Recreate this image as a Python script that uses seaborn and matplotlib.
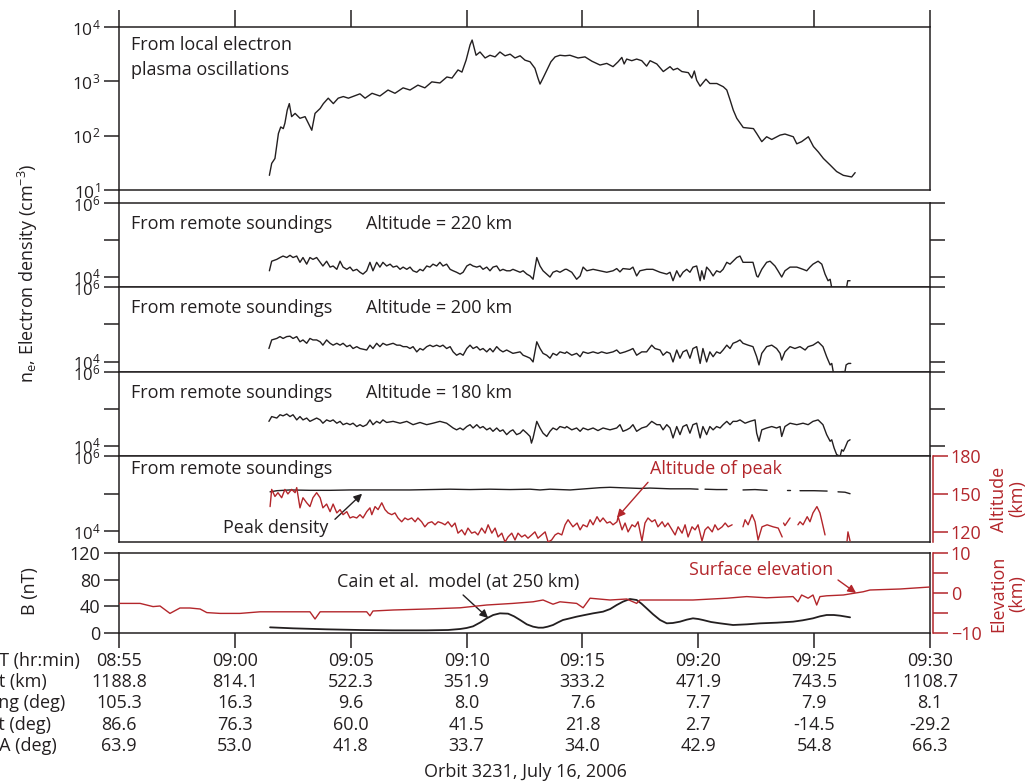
import numpy as np
import matplotlib
matplotlib.use("Agg")
import matplotlib.pyplot as plt
import matplotlib.transforms as mtransforms
from matplotlib.lines import Line2D
from matplotlib.ticker import FixedLocator, FixedFormatter, NullLocator
import seaborn as sns

# ---------------- data (time in minutes after 08:55 UT) ----------------
local_t = [6.49, 6.59, 6.73, 6.88, 6.98, 7.09, 7.16, 7.26, 7.35, 7.45, 7.60, 7.81, 8.03, 8.17, 8.32, 8.46,
           8.68, 8.82, 9.03, 9.25, 9.46, 9.68, 9.90,
           10.40, 10.62, 10.92, 11.26, 11.61, 11.91, 12.26, 12.56, 12.90, 13.20,
           13.50, 13.85, 14.15, 14.37, 14.63, 14.80, 14.98, 15.15, 15.24, 15.41,
           15.58, 15.80, 16.01, 16.23, 16.44, 16.66, 16.88, 17.09, 17.31, 17.52,
           17.74, 17.95, 18.08, 18.17, 18.30, 18.47, 18.64, 18.82, 19.03, 19.25,
           19.46, 19.81, 20.11, 20.41, 20.76,
           21.05, 21.32, 21.54, 21.70, 21.80, 21.91, 22.13, 22.34, 22.56, 22.77, 22.92,
           23.21, 23.49, 23.78, 23.92, 24.10, 24.29, 24.57, 24.72, 24.83, 24.93, 25.08, 25.33, 25.50, 25.80,
           26.08, 26.23, 26.37, 26.51, 26.66, 26.94, 27.38, 27.52, 27.74, 27.95, 28.17, 28.53, 28.74, 29.10,
           29.25, 29.46, 29.75, 29.97, 30.18, 30.40, 30.69, 30.97, 31.26, 31.62, 31.77]
local_log_ne = [1.27, 1.49, 1.58, 2.04, 2.16, 2.13, 2.23, 2.47, 2.59, 2.35, 2.41, 2.32, 2.35, 2.23, 2.10, 2.41,
                2.50, 2.59, 2.69, 2.59, 2.69, 2.72, 2.69,
                2.77, 2.69, 2.78, 2.73, 2.84, 2.78, 2.88, 2.84, 2.93, 2.88,
                2.99, 2.97, 3.08, 3.06, 3.21, 3.17, 3.39, 3.67, 3.76, 3.48,
                3.54, 3.43, 3.48, 3.45, 3.54, 3.47, 3.50, 3.43, 3.47, 3.39,
                3.36, 3.24, 3.06, 2.95, 3.06, 3.21, 3.36, 3.45, 3.48, 3.47,
                3.48, 3.43, 3.45, 3.37, 3.30,
                3.33, 3.27, 3.36, 3.44, 3.32, 3.41, 3.38, 3.41, 3.38, 3.28, 3.38,
                3.32, 3.18, 3.27, 3.21, 3.24, 3.18, 3.16, 3.06, 3.19, 3.02, 2.91, 3.04, 2.96, 2.96,
                2.90, 2.84, 2.66, 2.47, 2.32, 2.15, 2.13, 2.04, 1.89, 1.98, 1.93, 2.01, 2.03, 1.98,
                1.85, 1.89, 1.98, 1.80, 1.70, 1.58, 1.46, 1.34, 1.27, 1.24, 1.32]

s220_t = [6.49, 6.59, 6.81, 6.95, 7.08, 7.24, 7.38, 7.51, 7.67, 7.81,
          7.94, 8.10, 8.24, 8.37, 8.53, 8.68, 8.80, 8.96, 9.11, 9.24,
          9.40, 9.54, 9.67, 9.83, 9.97, 10.10, 10.26, 10.40, 10.53, 10.69,
          10.83, 10.96, 11.12, 11.26, 11.39, 11.55, 11.70, 11.83, 11.99, 12.13,
          12.26, 12.42, 12.56, 12.69, 12.85, 12.99, 13.12, 13.28, 13.42, 13.55,
          13.71, 13.85, 13.98, 14.14, 14.29, 14.42, 14.57, 14.72, 14.85, 15.01,
          15.15, 15.28, 15.44, 15.58, 15.71, 15.87, 16.01, 16.14, 16.30, 16.44,
          16.57, 16.73, 16.88, 17.00, 17.16, 17.31, 17.44, 17.60, 17.74, 17.87,
          18.03, 18.17, 18.30, 18.46, 18.60, 18.73, 18.89, 19.03, 19.25, 19.32,
          19.54, 19.75, 19.90, 20.03, 20.19, 20.46, 20.76, 21.05, 21.32, 21.48,
          21.62, 21.75, 22.05, 22.18, 22.34, 22.48, 22.77, 23.04, 23.35, 23.64,
          23.78, 23.91, 24.07, 24.21, 24.34, 24.50, 24.64, 24.77, 24.93, 25.08,
          25.15, 25.25, 25.36, 25.50, 25.64, 25.79, 25.94, 26.07, 26.23, 26.37,
          26.50, 26.66, 26.80, 26.93, 27.15, 27.36, 27.52, 27.58, 27.74, 27.95,
          28.10, 28.31, 28.44, 28.60, 28.74, 28.96, 29.25, 29.52, 29.68, 29.82,
          29.95, 30.17, 30.33, 30.47, 30.60, 30.69, 30.76, 30.85, 31.38, 31.41,
          31.45, 31.55]
s220_log_ne = [4.16, 4.42, 4.47, 4.52, 4.56, 4.52, 4.58, 4.52, 4.56, 4.39,
               4.52, 4.34, 4.52, 4.47, 4.52, 4.39, 4.29, 4.42, 4.26, 4.29,
               4.20, 4.42, 4.26, 4.20, 4.26, 4.16, 4.20, 4.12, 4.07, 4.16,
               4.39, 4.16, 4.39, 4.26, 4.39, 4.29, 4.34, 4.26, 4.29, 4.20,
               4.26, 4.20, 4.26, 4.16, 4.12, 4.20, 4.16, 4.29, 4.26, 4.34,
               4.29, 4.39, 4.29, 4.34, 4.20, 4.16, 4.12, 4.07, 4.12, 4.29,
               4.34, 4.29, 4.26, 4.29, 4.20, 4.26, 4.16, 4.26, 4.29, 4.16,
               4.20, 4.16, 4.16, 4.20, 4.16, 4.12, 4.16, 4.07, 4.02, 3.93,
               4.52, 4.29, 4.16, 4.07, 3.99, 4.12, 4.16, 4.12, 4.20, 4.20,
               4.12, 3.93, 4.02, 4.26, 4.16, 4.20, 4.16, 4.12, 4.16, 4.22,
               4.13, 4.22, 4.20, 4.26, 4.02, 4.16, 4.20, 4.20, 4.12, 4.07,
               4.12, 3.89, 4.16, 3.99, 4.12, 4.20, 4.12, 4.26, 4.29, 3.89,
               4.16, 3.93, 4.26, 4.16, 4.02, 4.16, 4.12, 4.20, 4.39, 4.34,
               4.42, 4.52, 4.56, 4.39, 4.39, 4.39, 4.02, 3.99, 4.20, 4.39,
               4.42, 4.29, 4.16, 3.99, 4.16, 4.26, 4.26, 4.20, 4.16, 4.26,
               4.34, 4.42, 4.34, 4.07, 3.89, 3.93, 3.70, 3.40, 3.40, 3.75,
               3.89, 3.89]

s200_t = [6.47, 6.59, 6.81, 6.95, 7.08, 7.24, 7.38, 7.51, 7.67, 7.81,
          7.94, 8.10, 8.24, 8.37, 8.53, 8.68, 8.80, 8.96, 9.11, 9.24,
          9.40, 9.54, 9.67, 9.83, 9.97, 10.10, 10.26, 10.40, 10.69, 10.83,
          10.96, 11.12, 11.26, 11.39, 11.55, 11.83, 11.99, 12.13, 12.26, 12.42,
          12.56, 12.69, 12.85, 12.99, 13.12, 13.28, 13.42, 13.55, 13.71, 13.85,
          13.98, 14.14, 14.29, 14.42, 14.57, 14.72, 14.85, 15.01, 15.15, 15.28,
          15.44, 15.58, 15.71, 15.87, 16.01, 16.14, 16.30, 16.44, 16.57, 16.73,
          16.88, 17.00, 17.31, 17.44, 17.60, 17.74, 17.87, 18.03, 18.17, 18.30,
          18.46, 18.60, 18.73, 18.89, 19.03, 19.25,
          19.32, 19.54, 19.75, 19.90, 20.03, 20.24, 20.46, 20.67, 20.83, 21.05,
          21.32, 21.48, 21.62, 21.84, 22.05, 22.18, 22.34, 22.56, 22.77, 22.99,
          23.13, 23.35, 23.48, 23.64, 23.78, 23.91, 24.07, 24.21, 24.34, 24.50,
          24.64, 24.77, 24.93, 25.08, 25.20, 25.36, 25.50, 25.64, 25.79, 25.94,
          26.07, 26.23, 26.37, 26.50, 26.66, 26.80, 26.93, 27.15, 27.36, 27.52,
          27.62, 27.74, 27.95, 28.17, 28.38, 28.53, 28.60, 28.74, 28.96, 29.17,
          29.39, 29.61, 29.74, 29.95, 30.17, 30.38, 30.54, 30.69, 30.76, 30.86,
          31.19, 31.33, 31.38, 31.48, 31.58]
s200_log_ne = [4.35, 4.58, 4.62, 4.67, 4.62, 4.67, 4.68, 4.62, 4.67, 4.53,
               4.58, 4.49, 4.62, 4.58, 4.58, 4.53, 4.44, 4.58, 4.49, 4.44,
               4.49, 4.44, 4.49, 4.40, 4.44, 4.35, 4.40, 4.35, 4.31, 4.44,
               4.35, 4.49, 4.40, 4.49, 4.44, 4.49, 4.44, 4.44, 4.40, 4.40,
               4.35, 4.40, 4.26, 4.35, 4.31, 4.40, 4.44, 4.40, 4.44, 4.40,
               4.44, 4.35, 4.40, 4.26, 4.17, 4.22, 4.17, 4.35, 4.44, 4.35,
               4.40, 4.31, 4.35, 4.26, 4.35, 4.26, 4.40, 4.31, 4.26, 4.31,
               4.26, 4.22, 4.26, 4.17, 4.13, 4.09, 3.99, 4.53, 4.35, 4.22,
               4.17, 4.09, 4.22, 4.17, 4.26, 4.22,
               4.26, 4.17, 4.22, 4.13, 4.26, 4.22, 4.26, 4.22, 4.26, 4.22,
               4.26, 4.31, 4.22, 4.26, 4.31, 4.35, 4.17, 4.26, 4.26, 4.44,
               4.35, 4.31, 4.17, 4.26, 4.22, 3.99, 4.31, 4.09, 4.26, 4.31,
               4.09, 4.35, 4.40, 3.95, 4.35, 3.99, 4.26, 4.13, 4.26, 4.22,
               4.31, 4.44, 4.35, 4.49, 4.53, 4.58, 4.49, 4.44, 4.40, 4.13,
               3.91, 4.22, 4.40, 4.44, 4.35, 4.22, 4.04, 4.26, 4.40, 4.35,
               4.40, 4.31, 4.40, 4.44, 4.53, 4.40, 4.13, 3.91, 3.95, 3.60,
               3.73, 3.73, 3.91, 3.95, 3.95]

s180_t = [6.47, 6.59, 6.81, 6.95, 7.08, 7.24, 7.38, 7.51, 7.67, 7.81,
          7.94, 8.10, 8.24, 8.37, 8.53, 8.68, 8.80, 8.96, 9.11, 9.24,
          9.40, 9.54, 9.67, 9.83, 9.97, 10.10, 10.26, 10.40, 10.53, 10.69,
          10.83, 10.96, 11.12, 11.26, 11.39, 11.55, 11.83, 12.13, 12.42, 12.69,
          12.99, 13.28, 13.55, 13.85, 14.14, 14.42, 14.57, 14.72, 14.85, 15.01,
          15.15, 15.28, 15.44, 15.58, 15.71, 15.87, 16.01, 16.14, 16.30, 16.44,
          16.57, 16.73, 16.88, 17.00, 17.16, 17.31, 17.44, 17.60, 17.74, 17.80,
          17.87, 18.03, 18.17, 18.30, 18.46, 18.60, 18.73, 18.89, 19.03, 19.25,
          19.32, 19.54, 19.75, 19.90, 20.03, 20.24, 20.46, 20.67, 20.89, 21.19,
          21.48, 21.62, 21.75, 21.91, 22.05, 22.18, 22.34, 22.56, 22.77, 22.99,
          23.21, 23.35, 23.48, 23.64, 23.78, 23.91, 24.07, 24.21, 24.34, 24.50,
          24.64, 24.77, 24.93, 25.08, 25.20, 25.36, 25.50, 25.64, 25.79, 25.94,
          26.07, 26.23, 26.37, 26.50, 26.66, 26.80, 27.02, 27.23, 27.45, 27.52,
          27.62, 27.74, 27.95, 28.17, 28.38, 28.53, 28.60, 28.74, 28.96, 29.25,
          29.52, 29.74, 29.95, 30.17, 30.38, 30.54, 30.69, 30.76, 30.86, 30.97,
          31.12, 31.19, 31.26, 31.33, 31.45, 31.55]
s180_log_ne = [4.66, 4.79, 4.75, 4.84, 4.81, 4.86, 4.79, 4.84, 4.70, 4.79,
               4.70, 4.75, 4.66, 4.70, 4.75, 4.70, 4.61, 4.70, 4.66, 4.70,
               4.61, 4.66, 4.57, 4.61, 4.57, 4.61, 4.52, 4.57, 4.52, 4.57,
               4.70, 4.57, 4.66, 4.61, 4.70, 4.63, 4.66, 4.61, 4.66, 4.57,
               4.63, 4.57, 4.61, 4.66, 4.61, 4.48, 4.43, 4.48, 4.43, 4.52,
               4.57, 4.48, 4.57, 4.48, 4.52, 4.43, 4.48, 4.39, 4.48, 4.39,
               4.43, 4.30, 4.39, 4.43, 4.30, 4.34, 4.43, 4.34, 4.25, 4.07,
               4.21, 4.66, 4.48, 4.34, 4.25, 4.39, 4.48, 4.43, 4.52, 4.48,
               4.52, 4.43, 4.48, 4.39, 4.48, 4.43, 4.48, 4.41, 4.48, 4.43,
               4.48, 4.57, 4.39, 4.43, 4.48, 4.57, 4.39, 4.48, 4.52, 4.66,
               4.57, 4.57, 4.43, 4.57, 4.48, 4.21, 4.52, 4.30, 4.52, 4.57,
               4.34, 4.57, 4.61, 4.21, 4.52, 4.30, 4.52, 4.43, 4.52, 4.48,
               4.57, 4.66, 4.57, 4.66, 4.66, 4.70, 4.61, 4.66, 4.70, 4.34,
               4.12, 4.43, 4.48, 4.52, 4.48, 4.52, 4.25, 4.52, 4.61, 4.57,
               4.61, 4.57, 4.66, 4.70, 4.57, 4.30, 4.12, 4.16, 3.94, 3.76,
               3.71, 3.89, 3.85, 3.94, 4.12, 4.16]

nan = float("nan")
peak_t = [6.52, 6.81, 7.38, 8.24, 9.11, 9.97, 10.83, 11.70, 12.56, 13.42,
          14.29, 15.15, 16.01, 16.88, 17.74, 18.17, 18.60, 19.03, 19.47, 19.90,
          20.33, 20.76, 21.19, 21.62, 22.05, 22.48, 22.91, 23.35, 23.78, 24.21,
          24.64, 24.99, 25.10, 25.29, 25.79, 26.24, 26.50, 26.93, 27.45, 27.97,
          28.40, 28.83, 28.96, 29.20, 29.39, 30.00, 30.56, 30.80, 31.03, 31.33, 31.55]
peak_log_ne = [5.05, 5.08, 5.10, 5.09, 5.09, 5.10, 5.10, 5.10, 5.10, 5.11,
               5.12, 5.11, 5.12, 5.11, 5.12, 5.10, 5.12, 5.11, 5.10, 5.12,
               5.14, 5.16, 5.17, 5.16, 5.15, 5.14, 5.15, 5.14, 5.13, 5.13,
               5.13, 5.12, nan, 5.12, 5.11, 5.11, nan, 5.10, 5.11, 5.09,
               nan, 5.09, 5.09, nan, 5.08, 5.08, 5.07, nan, 5.05, 5.04, 5.00]

hpeak_t = [6.52, 6.59, 6.73, 6.86, 7.02, 7.16, 7.29, 7.45, 7.60, 7.67,
           7.81, 7.94, 8.10, 8.24, 8.37, 8.53, 8.68, 8.80, 8.96, 9.11,
           9.24, 9.40, 9.54, 9.67, 9.83, 9.97, 10.10, 10.26, 10.40, 10.53,
           10.69, 10.83, 10.91, 11.05, 11.18, 11.34, 11.48, 11.61, 11.77, 11.91,
           12.04, 12.20, 12.34, 12.47, 12.63, 12.78, 12.90, 13.06, 13.20, 13.34,
           13.50, 13.64, 13.77, 13.93, 14.07, 14.20, 14.36, 14.50, 14.63, 14.79,
           14.93, 15.06, 15.22, 15.36, 15.49, 15.65, 15.80, 15.93, 16.09, 16.23,
           16.36, 16.52, 16.66, 16.79, 16.95, 17.09, 17.22, 17.38, 17.52, 17.65,
           17.81, 17.95, 18.08, 18.24, 18.39, 18.52, 18.67, 18.82, 18.95, 19.11,
           19.25, 19.38,
           19.59, 19.77, 19.90, 20.03, 20.20, 20.33, 20.46, 20.63, 20.76, 20.89,
           21.06, 21.19, 21.32, 21.49, 21.54, 21.71, 21.84, 21.97, 22.14, 22.27,
           22.40, 22.57, 22.70, 22.83, 23.00, 23.13, 23.26, 23.44, 23.56, 23.69,
           23.87, 24.00, 24.13, 24.30, 24.43, 24.56, 24.73, 24.86, 24.99, 25.16,
           25.29, 25.42, 25.60, 25.72, 25.85, 26.03, 26.16, 26.29, 26.46, 26.70,
           26.93, 27.02, 27.15, 27.32, 27.45, 27.58, 27.75, 27.97, 28.23, 28.45,
           28.62, 28.65, 28.68, 28.74, 28.96, 29.10, 29.30, 29.39, 29.52, 29.70,
           29.82, 29.95, 30.12, 30.25, 30.34, 30.47, 31.00, 31.42, 31.46, 31.55]
hpeak_km = [140, 153.6, 148, 151, 147, 153.6, 150, 153.6, 151, 155,
            139, 147, 143, 140, 147, 151, 147, 139, 142, 136,
            142, 135, 137.6, 133.6, 136, 131, 132, 131, 133.6, 131,
            136, 139, 133.6, 140, 137.6, 143, 137.6, 135, 133.6, 135,
            131, 128, 131, 129.6, 131, 128, 131, 128, 124, 127,
            128, 125.6, 128, 127, 125.6, 128, 124, 127, 119, 121.6,
            117.6, 123, 119, 120, 117.6, 123, 119, 125.6, 119, 123,
            116, 119, 112, 116, 119, 113.6, 119, 116, 117.6, 115,
            117.6, 120, 115, 117.6, 120, 112, 113.6, 117.6, 119, 117.6,
            125.6, 129.6,
            124, 127, 121.6, 125.6, 124, 129.6, 125.6, 132, 128, 131,
            127, 128, 125.6, 128, 132, 121.6, 127, 120, 125.6, 124,
            128, 112.8, 127, 131, 128, 129.6, 124, 128, 124, 127,
            121.6, 117.6, 124, 119, 125.6, 116, 124, 121.6, 125.6, 112.8,
            121.6, 124, 120, 125.6, 121.6, 124, 127, 124, 125.6, nan,
            124, 129.6, 125.6, 133.6, 128, 113.6, 124, 125.6, 124, 123,
            116, nan, 127, 125, 131, nan, 125.6, 128, 125.6, 132,
            128, 135, 140, 135, 128, 117.6, nan, 112.8, 120, 112.8]

cain_t = [6.52, 7.51, 8.96, 10.40, 11.83, 13.28, 14.20, 14.72, 15.00, 15.28,
          15.60, 15.87, 16.15, 16.44, 16.79, 17.05, 17.31, 17.60, 17.87, 18.10,
          18.30, 18.50, 18.73, 18.95, 19.16, 19.46, 19.75, 20.10, 20.46, 20.89,
          21.20, 21.48, 21.75, 22.05, 22.34, 22.55, 22.77, 23.05, 23.35, 23.64,
          23.90, 24.21, 24.50, 24.77, 25.00, 25.20, 25.55, 25.94, 26.50, 27.10,
          27.67, 28.40, 29.09, 29.50, 29.95, 30.25, 30.54, 30.85, 31.12, 31.55]
cain_nT = [8.5, 7.0, 5.5, 4.5, 4.0, 4.0, 4.5, 6.0, 7.5, 10.0,
           16.0, 22.0, 27.0, 29.5, 29.0, 25.0, 19.5, 13.0, 9.5, 8.0,
           8.0, 9.5, 12.0, 16.0, 19.5, 22.0, 24.5, 27.0, 29.5, 32.0,
           36.0, 42.0, 47.0, 51.0, 49.5, 44.0, 37.0, 28.0, 19.5, 14.5,
           15.0, 17.0, 20.0, 22.0, 21.0, 19.5, 16.5, 14.5, 12.0, 13.0,
           14.5, 15.5, 17.0, 19.0, 22.0, 25.0, 27.0, 27.0, 26.0, 23.5]

elev_t = [0.00, 0.91, 1.47, 1.77, 2.20, 2.63, 3.06, 3.50, 3.79, 4.36,
          5.22, 6.09, 8.24, 8.46, 8.68, 10.69, 10.83, 10.96, 11.83, 13.28,
          14.72, 15.87, 17.00, 17.87, 18.30, 18.73, 19.03, 19.75, 20.03, 20.33,
          21.19, 21.91, 22.34, 22.48, 24.77, 26.23, 27.09, 27.95, 29.09, 29.30,
          29.46, 29.74, 29.95, 30.11, 30.25, 30.54, 31.26, 31.68, 32.11, 32.41,
          33.71, 35.00]
elev_km = [-2.6, -2.6, -3.4, -3.25, -5.1, -3.75, -3.75, -4.0, -4.9, -5.1,
           -5.1, -4.7, -4.7, -6.5, -4.7, -4.7, -5.7, -4.5, -4.25, -4.0,
           -3.7, -3.0, -2.6, -2.2, -1.75, -2.8, -2.2, -2.6, -3.7, -1.3,
           -1.75, -1.5, -2.6, -1.75, -1.75, -1.3, -0.9, -1.2, -0.9, -2.2,
           -0.5, -1.3, -0.5, -3.0, -0.9, -0.7, -0.5, -0.1, 0.3, 0.75,
           1.0, 1.5]

tick_minutes = [0, 5, 10, 15, 20, 25, 30, 35]
row_labels = ["UT (hr:min)", "Alt (km)", "Long (deg)", "Lat (deg)", "SZA (deg)"]
ut_labels = ["08:55", "09:00", "09:05", "09:10", "09:15", "09:20", "09:25", "09:30"]
alt_labels = ["1188.8", "814.1", "522.3", "351.9", "333.2", "471.9", "743.5", "1108.7"]
long_labels = ["105.3", "16.3", "9.6", "8.0", "7.6", "7.7", "7.9", "8.1"]
lat_labels = ["86.6", "76.3", "60.0", "41.5", "21.8", "2.7", "-14.5", "-29.2"]
sza_labels = ["63.9", "53.0", "41.8", "33.7", "34.0", "42.9", "54.8", "66.3"]
sounding_altitudes = ["220", "200", "180"]

# ---------------- style ----------------
sns.set_style("ticks")
INK = "#231f20"
RED = "#b3262b"
plt.rcParams["font.family"] = ["Open Sans", "DejaVu Sans"]
plt.rcParams["mathtext.fontset"] = "custom"
plt.rcParams["mathtext.rm"] = "Open Sans"
plt.rcParams["mathtext.it"] = "Open Sans:italic"
plt.rcParams["mathtext.bf"] = "Open Sans:bold"
plt.rcParams["font.size"] = 13
plt.rcParams["axes.edgecolor"] = INK
plt.rcParams["axes.linewidth"] = 1.1
plt.rcParams["text.color"] = INK
plt.rcParams["xtick.color"] = INK
plt.rcParams["ytick.color"] = INK
plt.rcParams["xtick.labelsize"] = 13
plt.rcParams["ytick.labelsize"] = 12

W, H = 1025, 783
fig = plt.figure(figsize=(W / 100, H / 100), dpi=100)


def fx(px):
    return px / W


def fy(py):
    return 1 - py / H


def add_axes(top, bottom, left=119, right=930):
    return fig.add_axes([fx(left), fy(bottom), fx(right) - fx(left), (bottom - top) / H])


def segments(t, v):
    t = np.asarray(t, float)
    v = np.asarray(v, float)
    ok = ~np.isnan(v)
    out, cur = [], []
    for i in range(len(v)):
        if ok[i]:
            cur.append(i)
        elif cur:
            out.append(cur)
            cur = []
    if cur:
        out.append(cur)
    return [(t[c], v[c]) for c in out]


def draw(ax, t, v, color=INK, lw=1.0):
    for ts, vs in segments(t, v):
        sns.lineplot(x=ts, y=vs, ax=ax, color=color, linewidth=lw,
                     estimator=None, sort=False, legend=False)
    ax.set_xlabel("")
    ax.set_ylabel("")


XLIM = (0, 35)
TICK_LEN = 10.5
DEC_LABELS = ["10$^{4}$", "", "10$^{6}$"]

# Panel 1 : local plasma oscillations
ax1 = add_axes(27, 190)
ax1.set_yscale("log")
draw(ax1, local_t, 10 ** np.array(local_log_ne))
ax1.set_xlim(*XLIM)
ax1.set_ylim(10, 1e4)
ax1.yaxis.set_major_locator(FixedLocator([1e1, 1e2, 1e3, 1e4]))
ax1.yaxis.set_major_formatter(FixedFormatter(["10$^{1}$", "10$^{2}$", "10$^{3}$", "10$^{4}$"]))
ax1.yaxis.set_minor_locator(NullLocator())
ax1.set_xticks(tick_minutes)
ax1.tick_params(axis="x", bottom=False, top=True, labelbottom=False, labeltop=False,
                direction="out", length=12, width=1.1)
ax1.tick_params(axis="y", left=True, right=False, direction="out", length=TICK_LEN, width=1.1, pad=3,
                labelsize=12.5)
fig.text(fx(131), fy(45), "From local electron", va="center", ha="left", fontsize=13)
fig.text(fx(131), fy(70), "plasma oscillations", va="center", ha="left", fontsize=13)

# Panels 2-4 : remote soundings at fixed altitudes
bounds = [(203, 287), (287, 372), (372, 456)]
series = [(s220_t, s220_log_ne), (s200_t, s200_log_ne), (s180_t, s180_log_ne)]
for (top, bot), (ts, vs), alt in zip(bounds, series, sounding_altitudes):
    ax = add_axes(top, bot)
    ax.set_yscale("log")
    draw(ax, ts, 10 ** np.array(vs))
    ax.set_xlim(*XLIM)
    ax.set_ylim(10 ** 3.72, 1e6)
    ax.yaxis.set_major_locator(FixedLocator([1e4, 1e5, 1e6]))
    ax.yaxis.set_major_formatter(FixedFormatter(DEC_LABELS))
    ax.yaxis.set_minor_locator(NullLocator())
    ax.set_xticks([])
    ax.tick_params(axis="y", left=True, right=True, direction="out", length=TICK_LEN, width=1.1, pad=3)
    fig.text(fx(131), fy(top + 21), "From remote soundings", va="center", ha="left", fontsize=13)
    fig.text(fx(366), fy(top + 21), f"Altitude = {alt} km", va="center", ha="left", fontsize=13)

# Panel 5 : peak density and altitude of peak
ax5 = add_axes(456, 542)
ax5.set_yscale("log")
draw(ax5, peak_t, 10 ** np.array(peak_log_ne))
ax5.set_xlim(*XLIM)
ax5.set_ylim(10 ** 3.72, 1e6)
ax5.yaxis.set_major_locator(FixedLocator([1e4, 1e5, 1e6]))
ax5.yaxis.set_major_formatter(FixedFormatter(DEC_LABELS))
ax5.yaxis.set_minor_locator(NullLocator())
ax5.set_xticks([])
ax5.tick_params(axis="y", left=True, right=False, direction="out", length=TICK_LEN, width=1.1, pad=3)
ax5r = ax5.twinx()
draw(ax5r, hpeak_t, hpeak_km, color=RED, lw=1.0)
ax5r.set_xlim(*XLIM)
ax5r.set_ylim(112, 180)
ax5r.set_yticks([120, 150, 180])
ax5r.tick_params(axis="y", colors=RED, direction="out", length=TICK_LEN, width=1.1, pad=2, labelsize=13)
for s in ["left", "top", "bottom"]:
    ax5r.spines[s].set_visible(False)
ax5r.spines["right"].set_color(RED)
ax5r.spines["right"].set_position(("outward", 2.5))
fig.text(fx(131), fy(469), "From remote soundings", va="center", ha="left", fontsize=13)
fig.text(fx(276), fy(528), "Peak density", va="center", ha="center", fontsize=13)
ax5.annotate("", xy=(10.49, 1.0e5), xytext=(9.32, 2.1e4),
             arrowprops=dict(arrowstyle="-|>", color=INK, lw=1.0, mutation_scale=12,
                             shrinkA=0, shrinkB=0))
fig.text(fx(716), fy(469), "Altitude of peak", va="center", ha="center", fontsize=13, color=RED)
ax5r.annotate("", xy=(21.49, 131.2), xytext=(22.83, 159.2),
              arrowprops=dict(arrowstyle="-|>", color=RED, lw=1.0, mutation_scale=12,
                              shrinkA=0, shrinkB=0))

# Panel 6 : magnetic field model and surface elevation
ax6 = add_axes(553, 633)
draw(ax6, cain_t, cain_nT, color=INK, lw=1.3)
ax6.set_xlim(*XLIM)
ax6.set_ylim(0, 120)
ax6.set_yticks([0, 40, 80, 120])
ax6.set_xticks(tick_minutes)
ax6.set_xticklabels([])
ax6.tick_params(axis="x", direction="out", length=TICK_LEN, width=1.1)
ax6.tick_params(axis="y", direction="out", length=TICK_LEN, width=1.1, pad=3, labelsize=13)
ax6r = ax6.twinx()
draw(ax6r, elev_t, elev_km, color=RED, lw=1.0)
ax6r.set_xlim(*XLIM)
ax6r.set_ylim(-10, 10)
ax6r.set_yticks([-10, 0, 10])
ax6r.set_yticks([-5, 5], minor=True)
ax6r.tick_params(axis="y", which="both", colors=RED, direction="out", length=TICK_LEN, width=1.1, pad=2,
                 labelsize=13)
for s in ["left", "top", "bottom"]:
    ax6r.spines[s].set_visible(False)
ax6r.spines["right"].set_color(RED)
ax6r.spines["right"].set_position(("outward", 2.5))
fig.text(fx(458), fy(582), "Cain et al.  model (at 250 km)", va="center", ha="center", fontsize=13)
ax6.annotate("", xy=(15.93, 22.5), xytext=(14.85, 57),
             arrowprops=dict(arrowstyle="-|>", color=INK, lw=1.0, mutation_scale=12,
                             shrinkA=0, shrinkB=0))
fig.text(fx(761), fy(570), "Surface elevation", va="center", ha="center", fontsize=13, color=RED)
ax6r.annotate("", xy=(31.81, 0.0), xytext=(31.03, 3.25),
              arrowprops=dict(arrowstyle="-|>", color=RED, lw=1.0, mutation_scale=12,
                              shrinkA=0, shrinkB=0))

# left spine connector between panel 1 and 2
fig.add_artist(Line2D([fx(119), fx(119)], [fy(190), fy(203)], color=INK, lw=1.1))

# axis titles
fig.text(fx(28), fy(273), "n$_{\\mathrm{e}}$, Electron density (cm$^{-3}$)", rotation=90,
         va="center", ha="center", fontsize=13)
fig.text(fx(30), fy(591), "B (nT)", rotation=90, va="center", ha="center", fontsize=13)
fig.text(fx(1008), fy(499), "Altitude\n(km)", rotation=90, va="center", ha="center",
         fontsize=13, color=RED, linespacing=1.05, multialignment="center")
fig.text(fx(1008), fy(594), "Elevation\n(km)", rotation=90, va="center", ha="center",
         fontsize=13, color=RED, linespacing=1.05, multialignment="center")

# ephemeris table under the time axis (row labels are cut by the left edge as in the source)
trans = mtransforms.blended_transform_factory(ax6.transData, fig.transFigure)
rows = [ut_labels, alt_labels, long_labels, lat_labels, sza_labels]
row_y = [661, 682, 703.5, 725, 746]
row_x = [-14, -17, -22, -21, -21]
for lbl, vals, y, x0 in zip(row_labels, rows, row_y, row_x):
    fig.text(fx(x0), fy(y), lbl, va="center", ha="left", fontsize=13)
    for m, v in zip(tick_minutes, vals):
        fig.text(m, fy(y), v, transform=trans, va="center", ha="center", fontsize=13)
fig.text(fx(525), fy(772), "Orbit 3231, July 16, 2006", va="center", ha="center", fontsize=13)

fig.savefig("out.png", dpi=100)
